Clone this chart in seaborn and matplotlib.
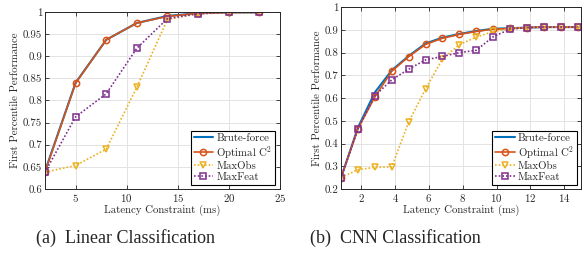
import numpy as np
import pandas as pd
import matplotlib
matplotlib.use("Agg")
import matplotlib.pyplot as plt
import seaborn as sns

# ---- data ----
lin_x = [2, 5, 8, 11, 14, 17, 20, 23]
lin_brute = [0.640, 0.840, 0.937, 0.975, 0.991, 0.997, 0.999, 0.999]
lin_opt = [0.638, 0.839, 0.937, 0.975, 0.990, 0.997, 0.999, 0.999]
lin_maxobs = [0.638, 0.653, 0.690, 0.830, 0.983, 0.996, 0.998, 0.999]
lin_maxfeat = [0.638, 0.763, 0.815, 0.918, 0.985, 0.996, 0.999, 0.999]

cnn_x = [0.8, 1.8, 2.8, 3.8, 4.8, 5.8, 6.8, 7.8, 8.8, 9.8, 10.8, 11.8, 12.8, 13.8, 14.8]
cnn_brute = [0.250, 0.470, 0.625, 0.722, 0.785, 0.840, 0.866, 0.882, 0.895, 0.905, 0.907, 0.910, 0.912, 0.912, 0.912]
cnn_opt = [0.250, 0.465, 0.605, 0.718, 0.782, 0.836, 0.863, 0.880, 0.893, 0.903, 0.906, 0.910, 0.912, 0.912, 0.912]
cnn_maxobs = [0.250, 0.285, 0.295, 0.297, 0.495, 0.640, 0.772, 0.835, 0.868, 0.893, 0.905, 0.910, 0.912, 0.912, 0.912]
cnn_maxfeat = [0.250, 0.465, 0.610, 0.680, 0.727, 0.768, 0.783, 0.800, 0.810, 0.870, 0.903, 0.910, 0.912, 0.912, 0.912]

series_names = ["Brute-force", "Optimal C$^2$", "MaxObs", "MaxFeat"]
captions = ["(a)  Linear Classification", "(b)  CNN Classification"]

sns.set_theme(style="whitegrid")
plt.rcParams["font.family"] = ["cmr10", "DejaVu Serif"]
plt.rcParams["mathtext.fontset"] = "cm"
plt.rcParams["axes.formatter.use_mathtext"] = True
plt.rcParams["axes.unicode_minus"] = False

colors = ["#0072BD", "#D95319", "#EDB120", "#7E2F8E"]
styles = [
    dict(marker=None, linestyle="-", lw=1.5),
    dict(marker="o", linestyle="-", lw=1.2, markersize=4.5),
    dict(marker="v", linestyle=(0, (1, 1.2)), lw=1.2, markersize=5),
    dict(marker="s", linestyle=(0, (1, 1.2)), lw=1.2, markersize=4),
]

FS = 7.8

fig = plt.figure(figsize=(5.84, 2.54), dpi=100)
ax1 = fig.add_axes([0.077, 0.256, 0.402, 0.697])
ax2 = fig.add_axes([0.584, 0.256, 0.411, 0.716])

def draw(ax, x, ys):
    for name, y, c, st in zip(series_names, ys, colors, styles):
        df = pd.DataFrame({"x": x, "y": y})
        kw = dict(color=c, linewidth=st["lw"], linestyle=st["linestyle"], label=name)
        if st["marker"]:
            kw.update(marker=st["marker"], markersize=st["markersize"],
                      markerfacecolor="none", markeredgecolor=c, markeredgewidth=1.1)
        sns.lineplot(data=df, x="x", y="y", ax=ax, **kw)
    ax.set_facecolor("white")
    ax.grid(True, color="#e3e3e3", linewidth=0.7)
    for sp in ax.spines.values():
        sp.set_color("#262626")
        sp.set_linewidth(0.7)
        sp.set_visible(True)
    ax.tick_params(axis="both", direction="in", length=3, width=0.6, labelsize=FS,
                   colors="#262626", pad=2, top=True, right=True, bottom=True, left=True)
    ax.set_xlabel("Latency Constraint (ms)", fontsize=FS, color="#262626", labelpad=1)
    ax.set_ylabel("First Percentile Performance", fontsize=FS, color="#262626", labelpad=2)
    leg = ax.legend(loc="lower right", fontsize=FS, frameon=True, fancybox=False,
                    borderpad=0.25, labelspacing=0.1, handlelength=1.8, handletextpad=0.3,
                    borderaxespad=0.4)
    leg.get_frame().set_edgecolor("black")
    leg.get_frame().set_linewidth(0.8)
    leg.get_frame().set_alpha(1)

draw(ax1, lin_x, [lin_brute, lin_opt, lin_maxobs, lin_maxfeat])
ax1.set_xlim(2, 25)
ax1.set_ylim(0.6, 1.0)
ax1.set_xticks([5, 10, 15, 20, 25])
ax1.set_yticks(np.arange(0.6, 1.001, 0.05))
ax1.set_yticklabels(["0.6", "0.65", "0.7", "0.75", "0.8", "0.85", "0.9", "0.95", "1"])

draw(ax2, cnn_x, [cnn_brute, cnn_opt, cnn_maxobs, cnn_maxfeat])
ax2.set_xlim(0.8, 15.0)
ax2.set_ylim(0.2, 1.0)
ax2.set_xticks([2, 4, 6, 8, 10, 12, 14])
ax2.set_yticks(np.arange(0.2, 1.001, 0.1))
ax2.set_yticklabels(["0.2", "0.3", "0.4", "0.5", "0.6", "0.7", "0.8", "0.9", "1"])

fig.text(126 / 584, 1 - 238 / 254, captions[0], ha="center", va="center",
         fontsize=13, family="Liberation Serif")
fig.text(395 / 584, 1 - 238 / 254, captions[1], ha="center", va="center",
         fontsize=13, family="Liberation Serif")

fig.savefig("out.png", dpi=100)
